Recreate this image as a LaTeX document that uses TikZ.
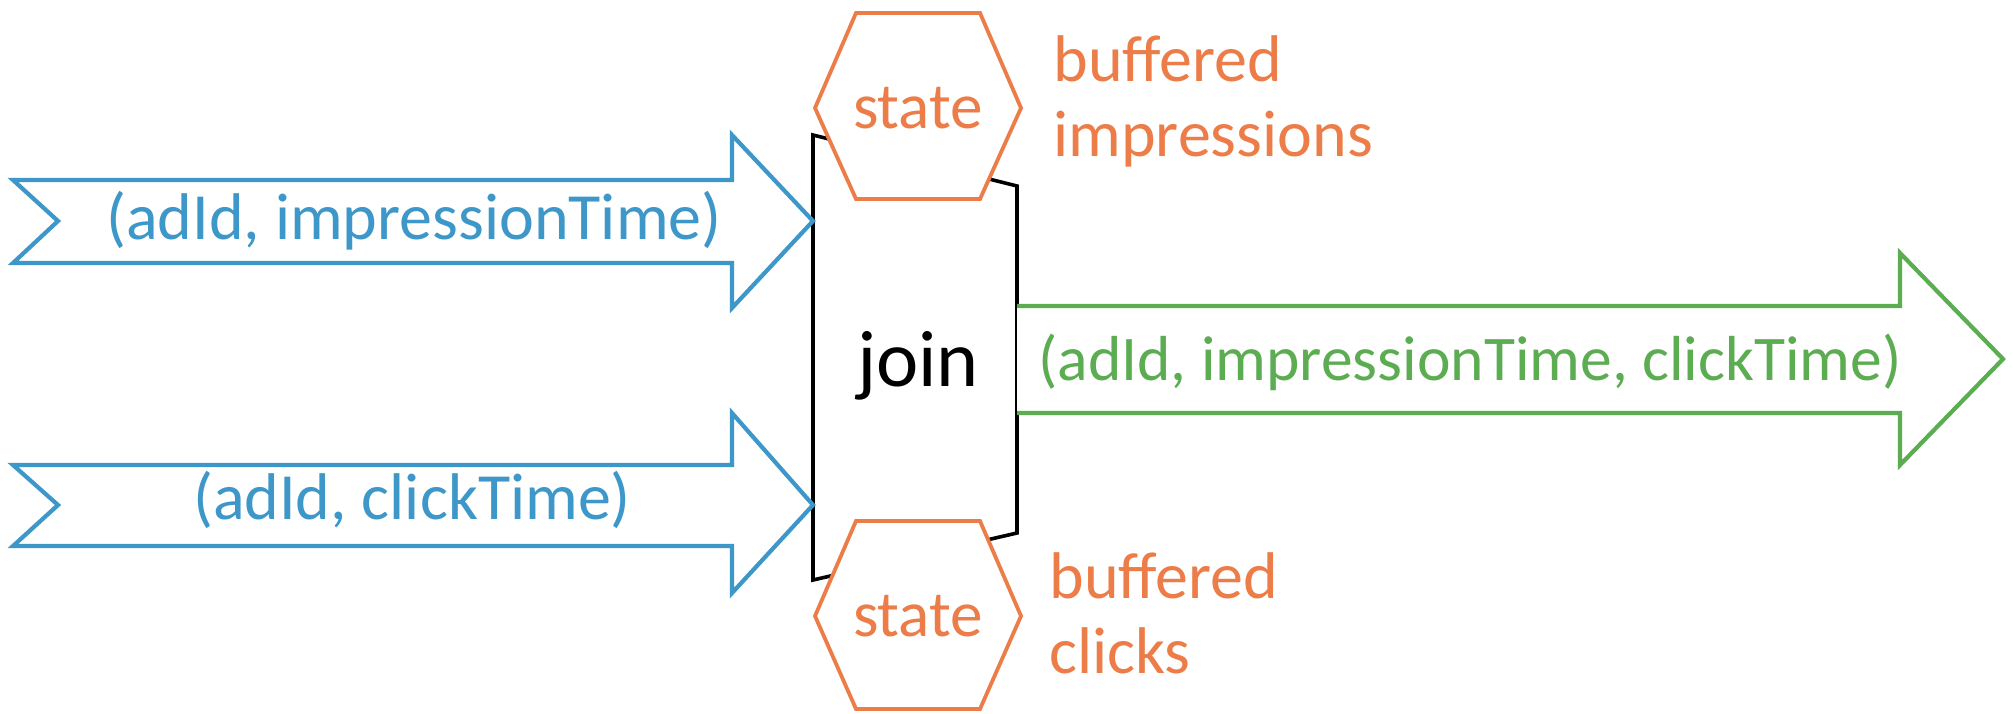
\documentclass[tikz,border=0pt]{standalone}
\usepackage{fontspec}
\setmainfont{Carlito}
\definecolor{cblue}{HTML}{3D97C9}
\definecolor{corange}{HTML}{EC7C48}
\definecolor{cgreen}{HTML}{5CAD52}
\begin{document}
\begin{tikzpicture}[x=0.5pt,y=-0.5pt,
  bluearrow/.style={draw=cblue,line width=2.1pt,fill=white,line join=miter},
  greenarrow/.style={draw=cgreen,line width=2.1pt,fill=white,line join=miter},
  hexa/.style={draw=corange,line width=1.9pt,fill=white,line join=miter},
  joinbox/.style={draw=black,line width=1.8pt},
  bluetext/.style={text=cblue,font=\fontsize{33}{38}\selectfont,inner sep=0pt},
  greentext/.style={text=cgreen,font=\fontsize{31.8}{37}\selectfont,inner sep=0pt},
  statetext/.style={text=corange,font=\fontsize{32.6}{38}\selectfont,inner sep=0pt},
  notetext/.style={text=corange,font=\fontsize{33}{37.5}\selectfont,inner sep=0pt,align=left,anchor=west},
  jointext/.style={text=black,font=\fontsize{40}{46}\selectfont,inner sep=0pt}]
\useasboundingbox (0,0) rectangle (2013,713);
% join operator (trapezoid)
\draw[joinbox] (813,135) -- (1017,186) -- (1017,533) -- (813,580) -- cycle;
\node[jointext] (join) at (918,366) {join};
% state hexagons
\draw[hexa] (815,108) -- (856,13) -- (980,13) -- (1021,108) -- (980,199) -- (856,199) -- cycle;
\node[statetext] (state1) at (918,108) {state};
\draw[hexa] (815,616) -- (856,521) -- (980,521) -- (1021,616) -- (980,709) -- (856,709) -- cycle;
\node[statetext] (state2) at (918,616) {state};
\node[notetext] (note1) at (1053,101) {buffered\\impressions};
\node[notetext] (note2) at (1049,613) {buffered\\clicks};
% input arrows
\draw[bluearrow] (13,180) -- (732,180) -- (732,135) -- (813,221) -- (732,308) -- (732,263) -- (13,263) -- (58,221) -- cycle;
\node[bluetext] (in1) at (414,221) {(adId, impressionTime)};
\draw[bluearrow] (13,465) -- (732,465) -- (732,413) -- (813,505) -- (732,593) -- (732,546) -- (13,546) -- (58,505) -- cycle;
\node[bluetext] (in2) at (412,500) {(adId, clickTime)};
% output arrow
\draw[greenarrow] (1017,306) -- (1900,306) -- (1900,253) -- (2003,359) -- (1900,465) -- (1900,413) -- (1017,413);
\node[greentext] (out) at (1470,362) {(adId, impressionTime, clickTime)};
\end{tikzpicture}
\end{document}
